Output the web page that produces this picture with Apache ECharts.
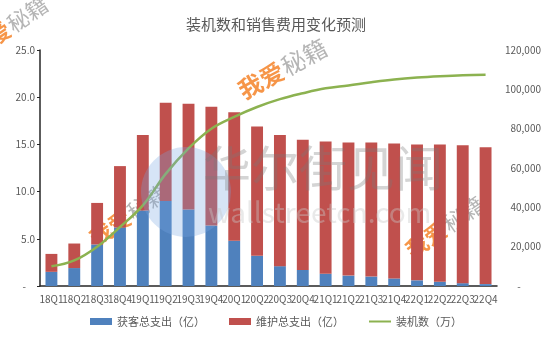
<!DOCTYPE html>
<html>
<head>
<meta charset="utf-8">
<style>
  html, body { margin: 0; padding: 0; background: #ffffff; }
  #chart { width: 552px; height: 340px; }
</style>
<script src="https://cdn.jsdelivr.net/npm/echarts@6/dist/echarts.min.js"></script>
</head>
<body>
<div id="chart"></div>
<script>
// Quarters on the x axis
var categories = ['18Q1','18Q2','18Q3','18Q4','19Q1','19Q2','19Q3','19Q4','20Q1','20Q2',
                  '20Q3','20Q4','21Q1','21Q2','21Q3','21Q4','22Q1','22Q2','22Q3','22Q4'];

// 获客总支出（亿）
var acquisitionSpend = [1.5, 1.9, 4.4, 6.2, 8.0, 9.0, 8.1, 6.4, 4.8, 3.2,
                        2.1, 1.7, 1.3, 1.1, 1.0, 0.8, 0.6, 0.45, 0.3, 0.2];

// 维护总支出（亿）
var maintenanceSpend = [1.9, 2.6, 4.4, 6.5, 8.0, 10.4, 11.2, 12.6, 13.6, 13.7,
                        13.9, 13.8, 14.0, 14.1, 14.2, 14.3, 14.4, 14.55, 14.6, 14.5];

// 装机数（万）
var installBase = [10000, 13000, 20000, 30000, 41000, 57000, 70000, 80000, 86000, 91000,
                   95000, 98000, 100500, 102000, 103600, 105000, 106000, 106700, 107200, 107400];

// Axis ranges
var leftAxis = { min: 0, max: 25, interval: 5 };
var rightAxis = { min: 0, max: 120000, interval: 20000 };

var FONT = '"Noto Sans CJK SC", "Noto Sans", sans-serif';
var TEXT = '#595959';

function stamp(x, y, rot, size) {
  // "我爱秘籍" stamp: orange first half, grey second half
  return {
    type: 'group', x: x, y: y, rotation: rot, silent: true, z: 100,
    children: [
      { type: 'text', style: { text: '我爱', x: 0, y: 0, fill: 'rgba(245,130,40,0.85)',
          font: 'bold ' + size + 'px ' + FONT, textVerticalAlign: 'middle' } },
      { type: 'text', style: { text: '秘籍', x: size * 2.05, y: 0, fill: 'rgba(150,150,150,0.7)',
          font: size + 'px ' + FONT, textVerticalAlign: 'middle' } }
    ]
  };
}

var chart = echarts.init(document.getElementById('chart'), null, { renderer: 'canvas' });

chart.setOption({
  animation: false,
  backgroundColor: '#ffffff',
  title: {
    text: '装机数和销售费用变化预测',
    left: 'center',
    top: 12,
    textStyle: { fontFamily: FONT, fontSize: 15, fontWeight: 'normal', color: TEXT }
  },
  legend: {
    bottom: 8,
    left: 'center',
    itemGap: 24,
    itemWidth: 22,
    itemHeight: 7,
    textStyle: { fontFamily: FONT, fontSize: 11, color: TEXT },
    data: [
      { name: '获客总支出（亿）', icon: 'rect' },
      { name: '维护总支出（亿）', icon: 'rect' },
      { name: '装机数（万）', itemStyle: { opacity: 0 } }
    ]
  },
  grid: { left: 40, right: 55, top: 50, bottom: 54, containLabel: false },
  xAxis: {
    type: 'category',
    data: categories,
    axisLine: { lineStyle: { color: '#262626', width: 1.5 } },
    axisTick: { show: false },
    axisLabel: { interval: 0, fontFamily: FONT, fontSize: 10, color: TEXT, margin: 8 }
  },
  yAxis: [
    {
      type: 'value',
      min: leftAxis.min, max: leftAxis.max, interval: leftAxis.interval,
      splitLine: { show: false },
      axisLine: { show: true, lineStyle: { color: '#262626', width: 1.5 } },
      axisTick: { show: true, length: 3, lineStyle: { color: '#262626' } },
      axisLabel: {
        fontFamily: FONT, fontSize: 10, color: TEXT, margin: 5,
        formatter: function (v) { return v === 0 ? '-    ' : v.toFixed(1); }
      }
    },
    {
      type: 'value',
      min: rightAxis.min, max: rightAxis.max, interval: rightAxis.interval,
      splitLine: { show: false },
      axisLine: { show: false },
      axisTick: { show: false },
      axisLabel: {
        fontFamily: FONT, fontSize: 10, color: TEXT, margin: 44, align: 'right',
        formatter: function (v) {
          return v === 0 ? '-         ' : v.toLocaleString('en-US');
        }
      }
    }
  ],
  series: [
    {
      name: '获客总支出（亿）',
      type: 'bar',
      stack: 'spend',
      barWidth: '52%',
      itemStyle: { color: '#4F81BD' },
      data: acquisitionSpend
    },
    {
      name: '维护总支出（亿）',
      type: 'bar',
      stack: 'spend',
      barWidth: '52%',
      itemStyle: { color: '#C0504D' },
      data: maintenanceSpend
    },
    {
      name: '装机数（万）',
      type: 'line',
      yAxisIndex: 1,
      smooth: 0.4,
      symbol: 'none',
      lineStyle: { color: '#8CB250', width: 2.5 },
      itemStyle: { color: '#8CB250' },
      data: installBase
    }
  ],
  graphic: [
    // wallstreetcn logo circle and wordmark
    { type: 'circle', shape: { cx: 186, cy: 192, r: 45 }, silent: true, z: 90,
      style: { fill: 'rgba(120,165,225,0.3)' } },
    { type: 'text', silent: true, z: 91,
      style: { text: '华尔街见闻', x: 203, y: 168, fill: 'rgba(120,120,120,0.32)',
               font: '48px ' + FONT, textVerticalAlign: 'middle' } },
    { type: 'text', silent: true, z: 91,
      style: { text: 'wallstreetcn.com', x: 208, y: 212, fill: 'rgba(200,200,200,0.4)',
               font: '28px ' + FONT, textVerticalAlign: 'middle' } },
    stamp(-28, 52, 0.6, 22),
    stamp(240, 92, 0.5, 24),
    stamp(92, 240, 0.6, 22),
    stamp(408, 252, 0.6, 22)
  ]
});
</script>
</body>
</html>
